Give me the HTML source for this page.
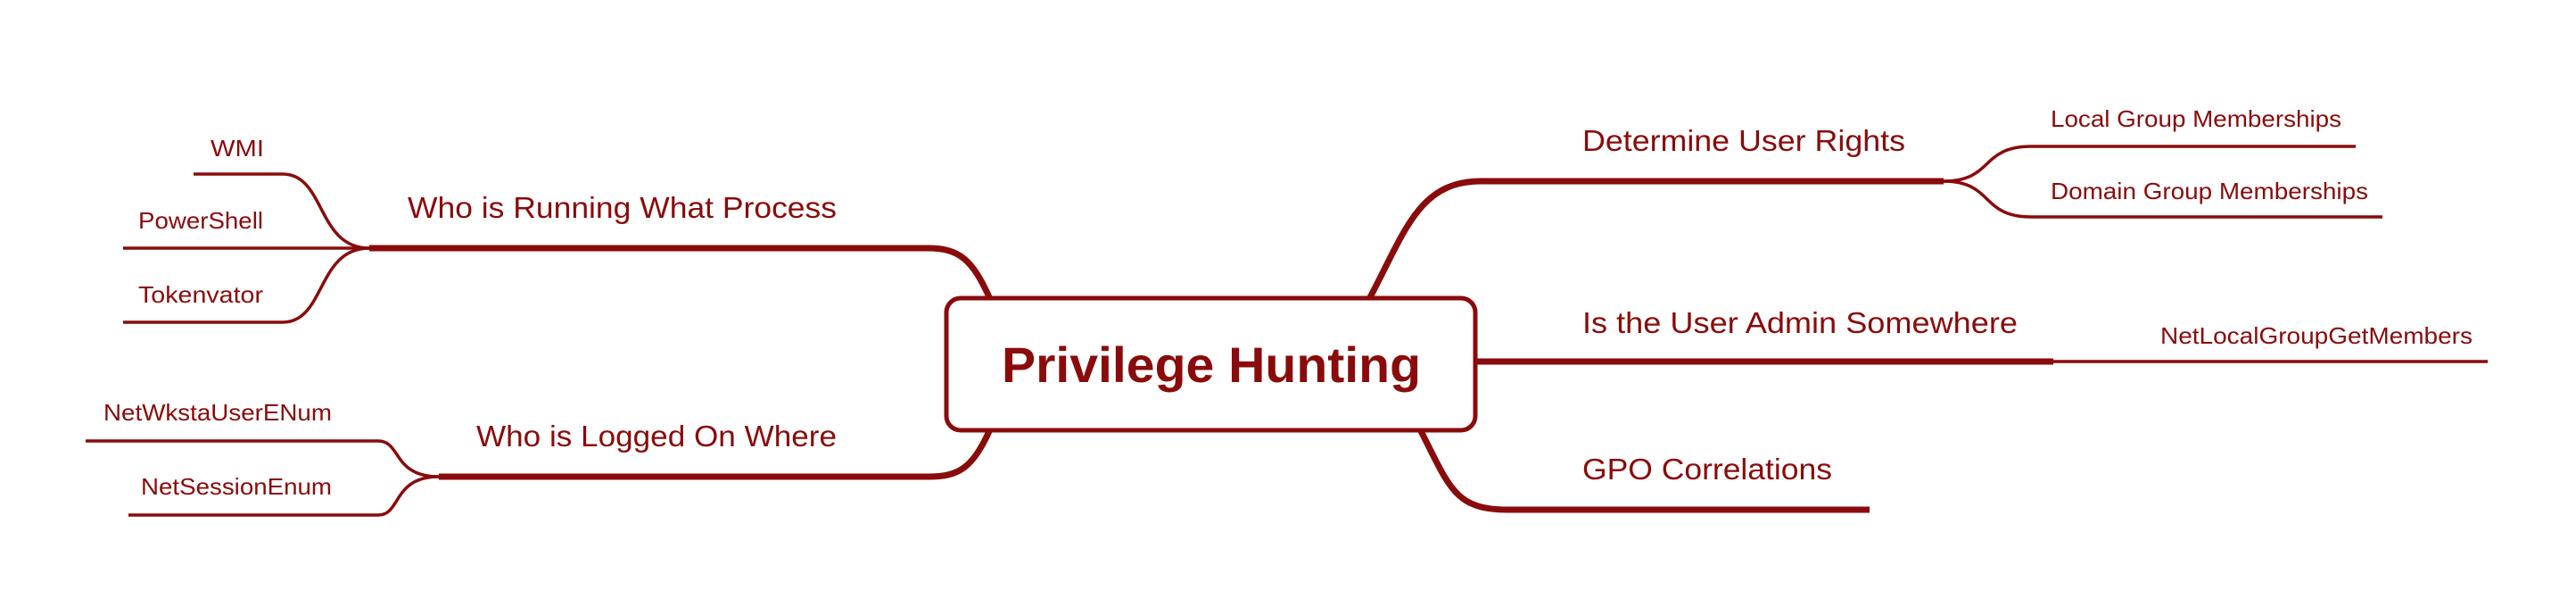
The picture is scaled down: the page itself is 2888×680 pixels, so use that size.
<!DOCTYPE html>
<html><head><meta charset="utf-8"><style>
html,body{margin:0;padding:0;background:#fff;width:2888px;height:680px;overflow:hidden}
svg{display:block}
text{font-family:"Liberation Sans",sans-serif;fill:#8a0b0b}
</style></head><body>
<svg width="2888" height="680" viewBox="0 0 2888 680" xmlns="http://www.w3.org/2000/svg">
<g fill="none" stroke="#8a0b0b" stroke-linecap="butt">
<!-- main branches -->
<path d="M1110 335 C1090 290 1075 278 1040 278 L414 278" stroke-width="7"/>
<path d="M1110 481 C1090 525 1075 534 1040 534 L492 534" stroke-width="7"/>
<path d="M1535 335 C1575 260 1590 203 1660 203 L2179 203" stroke-width="7"/>
<path d="M1654 405 L2302 405" stroke-width="7"/>
<path d="M1592 481 C1625 545 1630 571 1690 571 L2096 571" stroke-width="7"/>
<!-- sub branches -->
<g stroke-width="3.5">
<path d="M414 278 C355 278 365 195 317 195 L217 195"/>
<path d="M414 278 L138 278"/>
<path d="M414 278 C355 278 365 361 317 361 L138 361"/>
<path d="M492 534 C440 534 450 494 424 494 L96 494"/>
<path d="M492 534 C440 534 450 577 424 577 L144 577"/>
<path d="M2179 203 C2235 203 2220 164 2277 164 L2641 164"/>
<path d="M2179 203 C2235 203 2220 243 2277 243 L2671 243"/>
<path d="M2302 405 L2789 405"/>
</g>
</g>
<rect x="1061" y="334" width="593" height="148" rx="16" fill="#fff" stroke="#8a0b0b" stroke-width="5"/>
<text x="1358" y="428" text-anchor="middle" font-size="56" font-weight="bold" textLength="470" lengthAdjust="spacingAndGlyphs">Privilege Hunting</text>
<g font-size="33">
<text x="457" y="244" textLength="481" lengthAdjust="spacingAndGlyphs">Who is Running What Process</text>
<text x="534" y="500" textLength="404" lengthAdjust="spacingAndGlyphs">Who is Logged On Where</text>
<text x="1774" y="169" textLength="362" lengthAdjust="spacingAndGlyphs">Determine User Rights</text>
<text x="1774" y="373" textLength="488" lengthAdjust="spacingAndGlyphs">Is the User Admin Somewhere</text>
<text x="1774" y="537" textLength="280" lengthAdjust="spacingAndGlyphs">GPO Correlations</text>
</g>
<g font-size="26">
<text x="236" y="175" textLength="60" lengthAdjust="spacingAndGlyphs">WMI</text>
<text x="155" y="256" textLength="140" lengthAdjust="spacingAndGlyphs">PowerShell</text>
<text x="155" y="339" textLength="140" lengthAdjust="spacingAndGlyphs">Tokenvator</text>
<text x="116" y="471" textLength="256" lengthAdjust="spacingAndGlyphs">NetWkstaUserENum</text>
<text x="158" y="554" textLength="214" lengthAdjust="spacingAndGlyphs">NetSessionEnum</text>
<text x="2299" y="142" textLength="326" lengthAdjust="spacingAndGlyphs">Local Group Memberships</text>
<text x="2299" y="223" textLength="356" lengthAdjust="spacingAndGlyphs">Domain Group Memberships</text>
<text x="2422" y="385" textLength="350" lengthAdjust="spacingAndGlyphs">NetLocalGroupGetMembers</text>
</g>
</svg>
</body></html>
